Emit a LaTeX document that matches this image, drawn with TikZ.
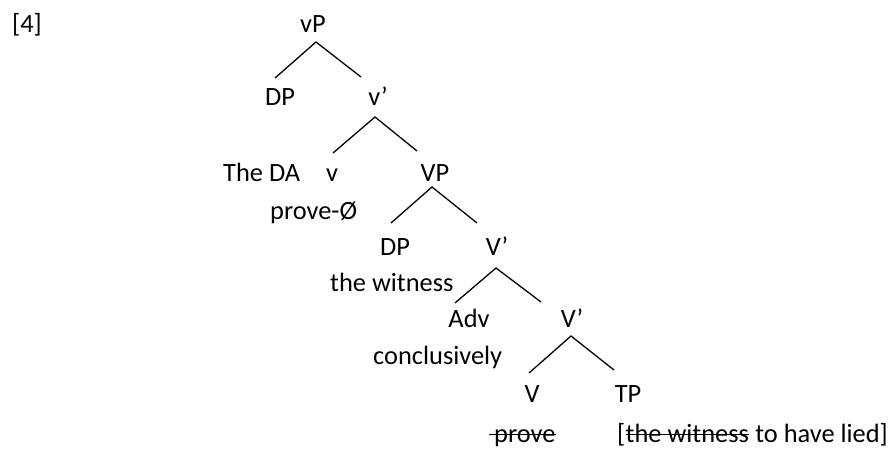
\documentclass[tikz,border=0pt]{standalone}
\usepackage{fontspec}
\setmainfont{Carlito}

\begin{document}
\begin{tikzpicture}[x=1pt,y=-1pt,
  lbl/.style={inner sep=0pt,font=\fontsize{26.4}{30}\selectfont},
  branch/.style={line width=\brline},
  strike/.style={line width=1.3pt}]

\def\brline{1.3pt};
\def\strikeht{7.5pt};

\useasboundingbox (0,0) rectangle (893,465);

\node[lbl,anchor=base west] (num) at (12,33) {[4]};

\node[lbl,anchor=base] (vP) at (313,33) {vP};
\node[lbl,anchor=base] (DPa) at (280,106) {DP};
\node[lbl,anchor=base] (vbar) at (378,106) {v’};
\node[lbl,anchor=base west] (DA) at (223,182) {The DA};
\node[lbl,anchor=base] (vhead) at (332,182) {v};
\node[lbl,anchor=base] (VP) at (435,182) {VP};
\node[lbl,anchor=base west] (prove) at (270,219) {prove-Ø};
\node[lbl,anchor=base] (DPb) at (395,255) {DP};
\node[lbl,anchor=base] (Vbara) at (497,255) {V’};
\node[lbl,anchor=base west] (witness) at (330,291) {the witness};
\node[lbl,anchor=base] (Adv) at (469,327) {Adv};
\node[lbl,anchor=base] (Vbarb) at (572,327) {V’};
\node[lbl,anchor=base west] (concl) at (373,364) {conclusively};
\node[lbl,anchor=base] (Vhead) at (532,402) {V};
\node[lbl,anchor=base] (TP) at (628,402) {TP};

\node[lbl,anchor=base west] (trace) at (489,442) {\hspace*{5pt}prove};
\node[lbl,anchor=base west] (brk) at (617,442) {[};
\node[lbl,anchor=base west] (copy) at (brk.base east) {the witness};
\node[lbl,anchor=base west] (rest) at (copy.base east) {\ to have lied]};

% strike-through on the deleted copies
\draw [strike] ([yshift=\strikeht]trace.base west) -- ([yshift=\strikeht]trace.base east);
\draw [strike] ([yshift=\strikeht]copy.base west) -- ([yshift=\strikeht]copy.base east);

% branches: top / left foot / right foot
\foreach \n/\ax/\ay/\lx/\ly/\rx/\ry in {1/316/42/275/78/361/77,
  2/375/117/333/153/417/151, 3/432/187/391/223/477/223,
  4/496/268/455/303/541/302, 5/571/336/529/373/614/370}
{
\draw coordinate (T\n) at (\ax,\ay);
\draw coordinate (L\n) at (\lx,\ly);
\draw coordinate (R\n) at (\rx,\ry);
\draw [branch] (L\n) -- (T\n) -- (R\n);
}

\end{tikzpicture}
\end{document}
